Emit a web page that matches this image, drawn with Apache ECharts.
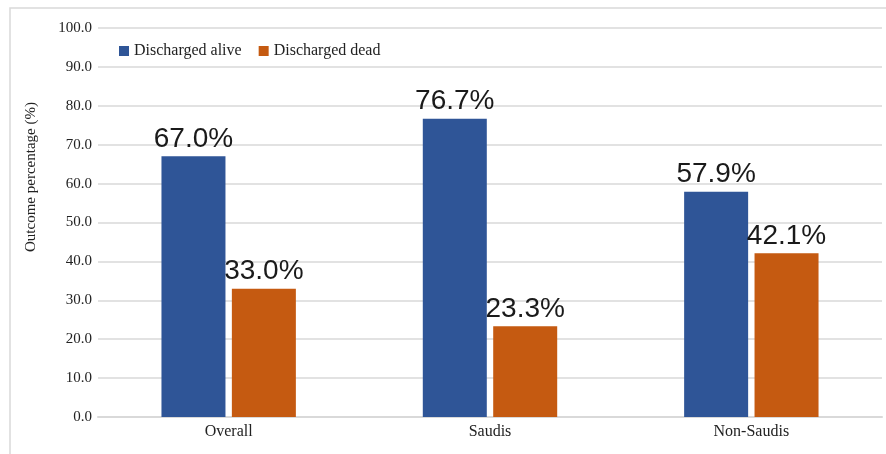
<!DOCTYPE html>
<html>
<head>
  <meta charset="utf-8">
</head>
<body style="margin: 0; background: #fff">
  <div id="container" style="width: 886px; height: 454px"></div>

  <script type="text/javascript" src="https://cdn.jsdelivr.net/npm/echarts@6/dist/echarts.min.js"></script>
  <script type="text/javascript">
    var categories = ['Overall', 'Saudis', 'Non-Saudis'];
    var aliveValues = [67.0, 76.7, 57.9];
    var deadValues = [33.0, 23.3, 42.1];
    var seriesNames = ['Discharged alive', 'Discharged dead'];
    var yAxisTitle = 'Outcome percentage (%)';

    var serif = '"Liberation Serif", "DejaVu Serif", serif';
    var sans = '"Liberation Sans", Arial, sans-serif';

    var myChart = echarts.init(document.getElementById('container'), null, { renderer: 'canvas' });

    var labelStyle = {
      show: true,
      position: 'top',
      distance: 3,
      fontFamily: sans,
      fontSize: 28,
      color: '#1a1a1a',
      formatter: function (p) { return p.value.toFixed(1) + '%'; }
    };

    var option = {
      animation: false,
      graphic: [
        {
          type: 'rect',
          shape: { x: 10, y: 8, width: 900, height: 480 },
          style: { fill: 'none', stroke: '#d9d9d9', lineWidth: 1.5 },
          z: -1
        },
        {
          // y axis title, sits above the middle of the axis like in the original
          type: 'text',
          x: 31,
          y: 177,
          rotation: Math.PI / 2,
          style: {
            text: yAxisTitle,
            fontFamily: serif,
            fontSize: 15,
            fill: '#222',
            align: 'center',
            verticalAlign: 'middle'
          }
        }
      ],
      legend: {
        left: 114,
        top: 38,
        itemWidth: 10,
        itemHeight: 10,
        itemGap: 17,
        icon: 'rect',
        textStyle: { fontFamily: serif, fontSize: 16, color: '#222' },
        data: seriesNames
      },
      grid: { left: 98, right: 4, top: 28, bottom: 37 },
      xAxis: {
        type: 'category',
        data: categories,
        axisLine: { lineStyle: { color: '#d9d9d9', width: 2 } },
        axisTick: { show: false },
        axisLabel: { fontFamily: serif, fontSize: 16, color: '#222', margin: 7 }
      },
      yAxis: {
        type: 'value',
        min: 0,
        max: 100,
        interval: 10,
        axisLabel: {
          fontFamily: serif, fontSize: 15, color: '#222', margin: 6,
          formatter: function (v) { return v.toFixed(1); }
        },
        splitLine: { lineStyle: { color: '#d9d9d9', width: 1.5 } }
      },
      series: [
        {
          name: seriesNames[0],
          type: 'bar',
          data: aliveValues,
          barWidth: 64,
          barGap: '10%',
          itemStyle: { color: '#2F5597' },
          label: labelStyle
        },
        {
          name: seriesNames[1],
          type: 'bar',
          data: deadValues,
          barWidth: 64,
          barGap: '10%',
          itemStyle: { color: '#C55A11' },
          label: labelStyle
        }
      ]
    };

    myChart.setOption(option);
    window.addEventListener('resize', myChart.resize);
  </script>
</body>
</html>
